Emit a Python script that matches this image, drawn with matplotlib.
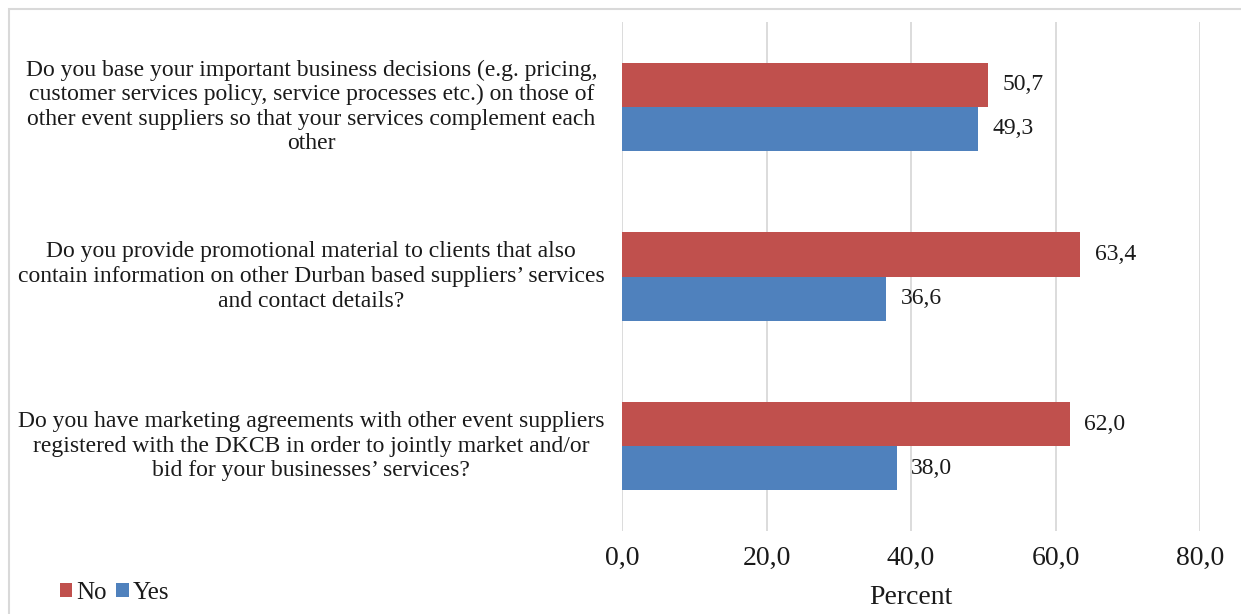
import matplotlib.pyplot as plt
from matplotlib.patches import Rectangle
from matplotlib.ticker import FuncFormatter
import numpy as np

plt.rcParams['font.family'] = ['Liberation Serif', 'DejaVu Serif']

# questions, top to bottom
questions = [
    "Do you base your important business decisions (e.g. pricing,\n"
    "customer services policy, service processes etc.) on those of\n"
    "other event suppliers so that your services complement each\n"
    "other",
    "Do you provide promotional material to clients that also\n"
    "contain information on other Durban based suppliers’ services\n"
    "and contact details?",
    "Do you have marketing agreements with other event suppliers\n"
    "registered with the DKCB in order to jointly market and/or\n"
    "bid for your businesses’ services?",
]
no_vals = [50.7, 63.4, 62.0]
yes_vals = [49.3, 36.6, 38.0]
x_ticks = [0, 20, 40, 60, 80]

red = '#C0504D'
blue = '#4F81BD'
txt = '#1a1a1a'

W, H = 1241, 614
fig = plt.figure(figsize=(W / 100, H / 100), dpi=100)
ax = fig.add_axes([622 / W, 1 - 531 / H, (1200 - 622) / W, (531 - 22) / H])

y = np.arange(len(questions))
bh = 0.26
ax.barh(y - bh / 2, no_vals, height=bh, color=red, label='No', zorder=3)
ax.barh(y + bh / 2, yes_vals, height=bh, color=blue, label='Yes', zorder=3)

fmt = lambda v: f"{v:.1f}".replace('.', ',')
for i in range(len(questions)):
    ax.text(no_vals[i] + 2.0, y[i] - bh / 2, fmt(no_vals[i]), va='center',
            ha='left', fontsize=17, color=txt)
    ax.text(yes_vals[i] + 2.0, y[i] + bh / 2, fmt(yes_vals[i]), va='center',
            ha='left', fontsize=17, color=txt)
    # question text, centred in the left margin
    ax.text(-43.0, y[i], questions[i], va='center', ha='center',
            multialignment='center', fontsize=17, color=txt,
            linespacing=1.22, clip_on=False)

ax.set_xlim(0, 80)
ax.set_ylim(len(questions) - 0.5, -0.5)
ax.set_xticks(x_ticks)
ax.xaxis.set_major_formatter(FuncFormatter(lambda v, p: fmt(v)))
ax.set_yticks([])
ax.tick_params(axis='x', length=0, pad=11, labelsize=20, labelcolor=txt)
ax.grid(axis='x', color='#D9D9D9', linewidth=1.3, zorder=0)
for s in ax.spines.values():
    s.set_visible(False)
ax.set_xlabel('Percent', fontsize=20, color=txt, labelpad=10)

# outer frame
fig.patches.append(Rectangle((9 / W, -0.1), 1.2, 1 - 9 / H + 0.1,
                             transform=fig.transFigure, fill=False,
                             edgecolor='#D9D9D9', linewidth=1.5))

fig.legend(loc='lower left', bbox_to_anchor=(37 / W, -0.02), ncol=2,
           frameon=False, fontsize=18, handlelength=0.5, handleheight=0.5,
           handletextpad=0.15, columnspacing=0.4, labelcolor=txt)

fig.savefig('out.png', dpi=100)
